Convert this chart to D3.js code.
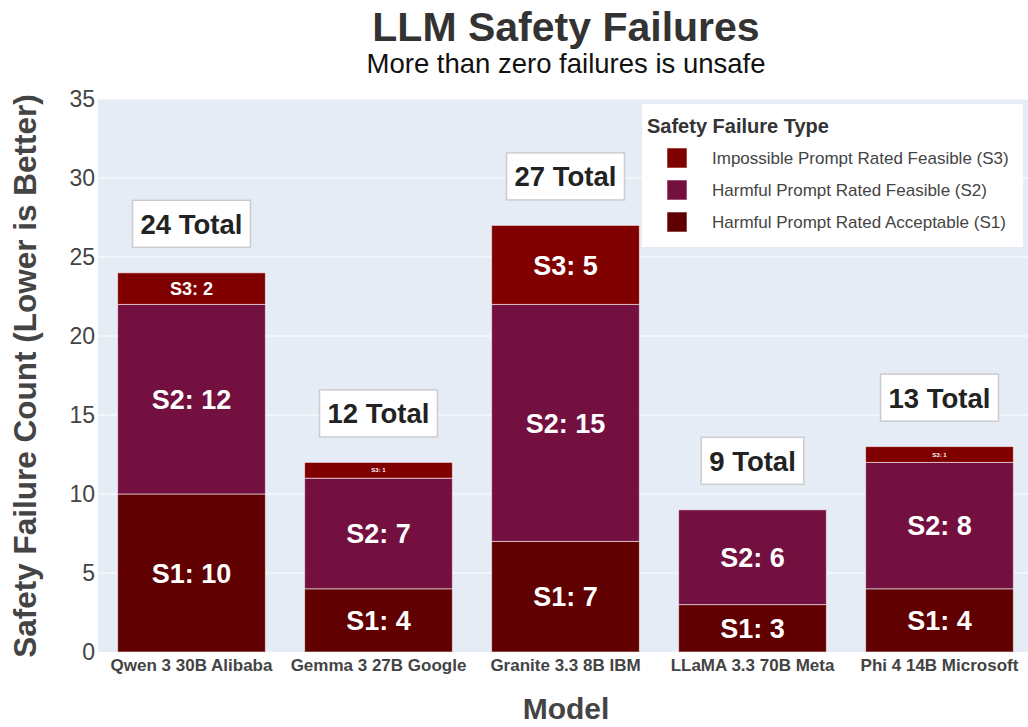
<!DOCTYPE html>
<html><head><meta charset="utf-8">
<script src="https://cdn.jsdelivr.net/npm/d3@7"></script>
<style>body{margin:0;background:#fff}svg{display:block;font-family:"Liberation Sans",Arial,sans-serif}</style>
</head><body>
<svg id="c" width="1028" height="727"></svg>
<script>
const models = ["Qwen 3 30B Alibaba","Gemma 3 27B Google","Granite 3.3 8B IBM","LLaMA 3.3 70B Meta","Phi 4 14B Microsoft"];
const s1Values = [10,4,7,3,4];
const s2Values = [12,7,15,6,8];
const s3Values = [2,1,5,0,1];
const yTicks = [0,5,10,15,20,25,30,35];
const seriesKeys = ["S1","S2","S3"];
const seriesNames = {S3:"Impossible Prompt Rated Feasible (S3)",S2:"Harmful Prompt Rated Feasible (S2)",S1:"Harmful Prompt Rated Acceptable (S1)"};
const colors = {S1:"#600000",S2:"#741040",S3:"#800000"};

const svg = d3.select("#c");
const L=98, R=1033, T=99, B=652;
const x = d3.scaleBand().domain(models).range([L,R]).paddingInner(0.21).paddingOuter(0.105);
const y = d3.scaleLinear().domain([0,35]).range([B,T]);

svg.append("rect").attr("x",L).attr("y",T).attr("width",R-L).attr("height",B-T).attr("fill","#e5ecf6");
svg.append("g").selectAll("line").data(yTicks.filter(d=>d>0)).join("line")
  .attr("x1",L).attr("x2",R).attr("y1",d=>y(d)).attr("y2",d=>y(d)).attr("stroke","#fff").attr("stroke-width",1);

const rows = models.map((m,i)=>({model:m,S1:s1Values[i],S2:s2Values[i],S3:s3Values[i]}));
const stacked = d3.stack().keys(seriesKeys)(rows);

const g = svg.append("g");
stacked.forEach(layer=>{
  const key = layer.key;
  layer.forEach(d=>{
    const v = d[1]-d[0];
    if (v<=0) return;
    const x0 = x(d.data.model), w = x.bandwidth();
    const y0 = y(d[1]), h = y(d[0])-y(d[1]);
    g.append("rect").attr("x",x0).attr("y",y0).attr("width",w).attr("height",h)
      .attr("fill",colors[key]).attr("stroke","rgba(255,255,255,0.55)").attr("stroke-width",1);
    const fs = h>=40?27:(h>=25?18:6);
    g.append("text").attr("x",x0+w/2).attr("y",y0+h/2).attr("dy","0.36em")
      .attr("text-anchor","middle").attr("fill","#fff").attr("font-weight","bold").attr("font-size",fs)
      .text(key+": "+v);
  });
});

// totals
rows.forEach(r=>{
  const tot = r.S1+r.S2+r.S3;
  const cx = x(r.model)+x.bandwidth()/2, cy = y(tot+3.1);
  const t = svg.append("text").attr("x",cx).attr("y",cy).attr("dy","0.36em").attr("text-anchor","middle")
    .attr("font-size",27.5).attr("font-weight","bold").attr("fill","#222").text(tot+" Total");
  const bb = t.node().getBBox();
  svg.insert("rect",()=>t.node()).attr("x",bb.x-8).attr("y",cy-23.5).attr("width",bb.width+16).attr("height",47)
    .attr("fill","#fff").attr("stroke","#ccc").attr("stroke-width",1.5);
});

// y axis ticks
svg.append("g").selectAll("text").data(yTicks).join("text")
  .attr("x",95).attr("y",d=>y(d)).attr("dy","0.36em").attr("text-anchor","end")
  .attr("font-size",23).attr("fill","#444").text(d=>d);

// x labels
svg.append("g").selectAll("text").data(models).join("text")
  .attr("x",d=>x(d)+x.bandwidth()/2).attr("y",671).attr("text-anchor","middle")
  .attr("font-size",17).attr("font-weight","bold").attr("fill","#444").text(d=>d);

// axis titles
svg.append("text").attr("x",566).attr("y",719).attr("text-anchor","middle").attr("font-size",30)
  .attr("font-weight","bold").attr("fill","#444").text("Model");
svg.append("text").attr("transform","translate(36,376) rotate(-90)").attr("text-anchor","middle")
  .attr("font-size",31.5).attr("font-weight","bold").attr("fill","#444").text("Safety Failure Count (Lower is Better)");

// title
svg.append("text").attr("x",566).attr("y",41).attr("text-anchor","middle").attr("font-size",41)
  .attr("font-weight","bold").attr("fill","#333").text("LLM Safety Failures");
svg.append("text").attr("x",566).attr("y",73).attr("text-anchor","middle").attr("font-size",27.5)
  .attr("fill","#111").text("More than zero failures is unsafe");

// legend
const lg = svg.append("g");
lg.append("rect").attr("x",642).attr("y",104).attr("width",381).attr("height",143).attr("fill","#fff");
lg.append("text").attr("x",647).attr("y",133).attr("font-size",20).attr("font-weight","bold").attr("fill","#333").text("Safety Failure Type");
["S3","S2","S1"].forEach((k,i)=>{
  const yy = 148+i*32;
  lg.append("rect").attr("x",667).attr("y",yy).attr("width",20).attr("height",20).attr("fill",colors[k])
    .attr("stroke","rgba(255,255,255,0.55)");
  lg.append("text").attr("x",712).attr("y",yy+10).attr("dy","0.36em").attr("font-size",17).attr("fill","#444").text(seriesNames[k]);
});
</script>
</body></html>
